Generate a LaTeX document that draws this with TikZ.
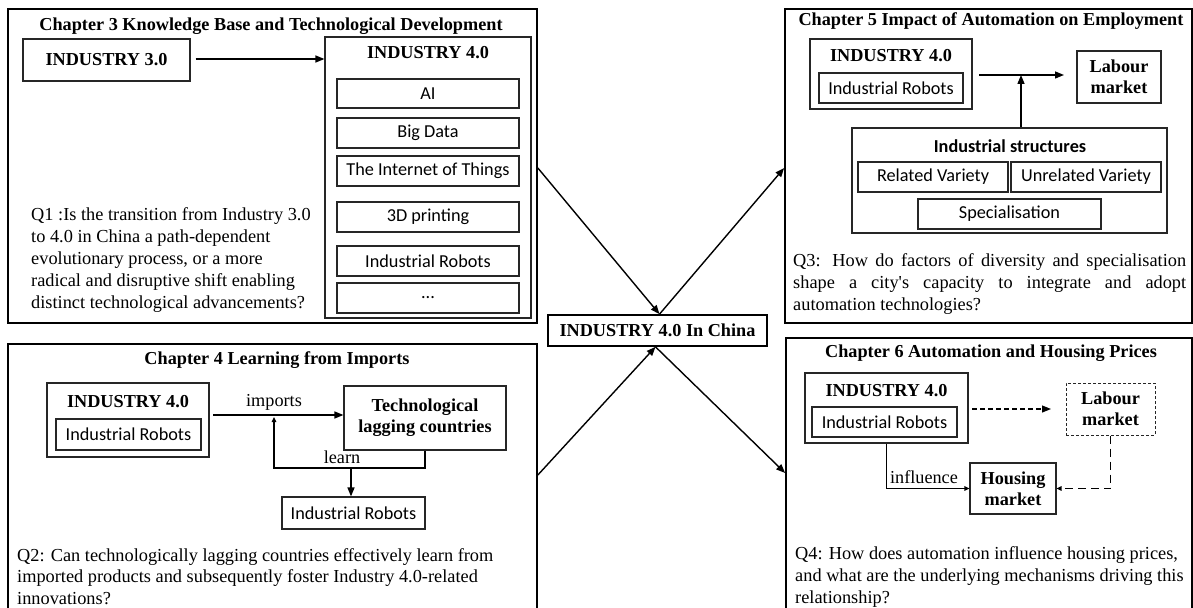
\documentclass[tikz,border=0pt]{standalone}
\usepackage{fontspec}
\setmainfont{Liberation Serif}[Ligatures=TeXOff]
\newfontfamily\sansf{Carlito}
\usetikzlibrary{arrows.meta}
\begin{document}
\begin{tikzpicture}[x=1bp,y=-1bp,
  chbox/.style={draw=black, line width=1.7bp, inner sep=0pt},
  bx/.style={draw=black!85, line width=1.1bp, inner sep=0pt, align=center},
  serifb/.style={font=\fontsize{18.3}{21}\selectfont\bfseries, inner sep=0pt, align=center},
  serifr/.style={font=\fontsize{18.3}{21}\selectfont, inner sep=0pt},
  sanst/.style={font=\sansf\fontsize{18.3}{21}\selectfont},
  qtext/.style={font=\fontsize{18.4}{22.3}\selectfont, align=left, inner sep=0pt, anchor=north west},
  arr/.style={line width=1.4bp, -{Triangle[length=9bp,width=7bp]}},
  smallarr/.style={line width=1.1bp, -{Triangle[length=5bp,width=4.5bp]}},
  dashbox/.style={draw=black!85, line width=1bp, dash pattern=on 3bp off 2bp, inner sep=0pt, align=center},
]
\useasboundingbox (0,0) rectangle (1193,608);
\clip (0,0) rectangle (1193,608);

% ---------------- Chapter 3 ----------------
\node[chbox, minimum width=529bp, minimum height=314bp] (ch3) at (272.5,166) {};
\node[serifb] (t3) at (271,26) {Chapter 3 Knowledge Base and Technological Development};
\node[bx, serifb, minimum width=167bp, minimum height=42bp] (i3) at (106.5,60) {INDUSTRY 3.0};
\node[bx, minimum width=206bp, minimum height=281bp] (i4c3) at (428,177.5) {};
\node[serifb] (i4c3t) at (428,53) {INDUSTRY 4.0};
\node[bx, sanst, minimum width=182bp, minimum height=29bp] (ai) at (428,93.5) {AI};
\node[bx, sanst, minimum width=182bp, minimum height=30bp] (bd) at (428,133) {Big Data};
\node[bx, sanst, minimum width=182bp, minimum height=30bp] (iot) at (428,171) {The Internet of Things};
\node[bx, sanst, minimum width=182bp, minimum height=30bp] (tdp) at (428,217) {3D printing};
\node[bx, sanst, minimum width=182bp, minimum height=30bp] (irc3) at (428,261) {Industrial Robots};
\node[bx, sanst, minimum width=182bp, minimum height=30bp] (dots) at (428,298) {...};
\node[qtext] (q1) at (31,207) {Q1 :Is the transition from Industry 3.0\\to 4.0 in China a path-dependent\\evolutionary process, or a more\\radical and disruptive shift enabling\\distinct technological advancements?};
\draw[arr] ([xshift=5bp,yshift=1bp]i3.east) -- ([yshift=1bp]i3.east -| i4c3.west);

% ---------------- Chapter 5 ----------------
\node[chbox, minimum width=407bp, minimum height=314bp] (ch5) at (988.5,166) {};
\node[serifb] (t5) at (991,21) {Chapter 5 Impact of Automation on Employment};
\node[bx, minimum width=162bp, minimum height=70bp] (i5) at (891,74) {};
\node[serifb] (i5t) at (891,56) {INDUSTRY 4.0};
\node[bx, sanst, minimum width=144bp, minimum height=30bp] (ir5) at (891,88) {Industrial Robots};
\node[bx, serifb, minimum width=84bp, minimum height=52bp] (lab5) at (1119,77) {Labour\\market};
\node[bx, minimum width=315bp, minimum height=105bp] (st5) at (1009.5,180.5) {};
\node[sanst, font=\sansf\fontsize{18.3}{21}\selectfont\bfseries] (st5t) at (1010,146) {Industrial structures};
\node[bx, sanst, minimum width=150bp, minimum height=30bp] (rv) at (933,177) {Related Variety};
\node[bx, sanst, minimum width=150bp, minimum height=30bp] (uv) at (1086,177) {Unrelated Variety};
\node[bx, sanst, minimum width=183bp, minimum height=30bp] (sp) at (1009.5,214) {Specialisation};
\coordinate (m5a) at (979,75);
\coordinate (m5b) at (1064,75);
\coordinate (m5c) at (1021,75);
\draw[arr] (m5a) -- (m5b);
\draw[arr] (st5.north -| m5c) -- (m5c);
\node[qtext] (q3) at (793,253) {\makebox[393bp][s]{Q3: How do factors of diversity and specialisation}\\\makebox[393bp][s]{shape a city's capacity to integrate and adopt}\\automation technologies?};

% ---------------- Chapter 4 ----------------
\node[chbox, minimum width=529bp, minimum height=276bp] (ch4) at (272.5,482) {};
\node[serifb] (t4) at (277,360) {Chapter 4 Learning from Imports};
\node[bx, minimum width=162bp, minimum height=74bp] (i4) at (128,420) {};
\node[serifb] (i4t) at (128,402) {INDUSTRY 4.0};
\node[bx, sanst, minimum width=145bp, minimum height=31bp] (ir4) at (128.5,434.5) {Industrial Robots};
\node[bx, serifb, minimum width=162bp, minimum height=64bp] (tech) at (425,418) {Technological\\lagging countries};
\node[bx, sanst, minimum width=143bp, minimum height=32bp] (ir4b) at (353.5,513) {Industrial Robots};
\coordinate (imA) at (213,415);
\coordinate (imB) at (274,417);
\coordinate (lrn) at (351,468);
\draw[arr] (imA) -- (imA -| tech.west);
\node[serifr] (imp) at (274,402) {imports};
\draw[smallarr] (tech.south) |- (lrn) -| (imB);
\node[serifr] (lrnt) at (342,457) {learn};
\draw[arr] (lrn) -- (lrn |- ir4b.north);
\node[qtext, font=\fontsize{18.4}{21.8}\selectfont] (q2) at (17,548) {Q2: Can technologically lagging countries effectively learn from\\imported products and subsequently foster Industry 4.0-related\\innovations?};

% ---------------- Chapter 6 ----------------
\node[chbox, minimum width=406bp, minimum height=282bp] (ch6) at (989,479) {};
\node[serifb] (t6) at (991,353) {Chapter 6 Automation and Housing Prices};
\node[bx, minimum width=163bp, minimum height=70bp] (i6) at (886.5,408) {};
\node[serifb] (i6t) at (886.5,391) {INDUSTRY 4.0};
\node[bx, sanst, minimum width=145bp, minimum height=30bp] (ir6) at (884.5,422) {Industrial Robots};
\node[dashbox, serifb, minimum width=89bp, minimum height=52bp] (lab6) at (1110.5,409) {Labour\\market};
\node[bx, serifb, minimum width=86bp, minimum height=51bp] (hous) at (1013,488.5) {Housing\\market};
\coordinate (d6a) at (972,409);
\coordinate (d6b) at (1051,409);
\draw[line width=1.1bp, dash pattern=on 5bp off 3bp, -{Triangle[length=9bp,width=7bp]}] (d6a) -- (d6b);
\draw[line width=1.7bp, -{Triangle[length=5bp,width=4.5bp]}] (i6.south) |- (hous.west);
\node[serifr] (infl) at (924,477) {influence};
\draw[line width=1.8bp, dash pattern=on 8bp off 5bp, -{Triangle[length=5bp,width=4.5bp]}] (lab6.south) |- (hous.east);
\node[qtext] (q4) at (795,546) {Q4: How does automation influence housing prices,\\and what are the underlying mechanisms driving this\\relationship?};

% ---------------- Centre ----------------
\node[chbox, serifb, minimum width=219bp, minimum height=31bp] (china) at (657.5,330.5) {INDUSTRY 4.0 In China};
\draw[arr] ([yshift=-2bp]ch3.east) -- ([xshift=2bp]china.north);
\draw[arr] ([xshift=2bp]china.north) -- ([yshift=-2bp]ch5.west);
\draw[arr] ([yshift=7bp]ch4.east) -- ([xshift=-2bp]china.south);
\draw[arr] ([xshift=-2bp]china.south) -- ([yshift=6bp]ch6.west);
\end{tikzpicture}
\end{document}
